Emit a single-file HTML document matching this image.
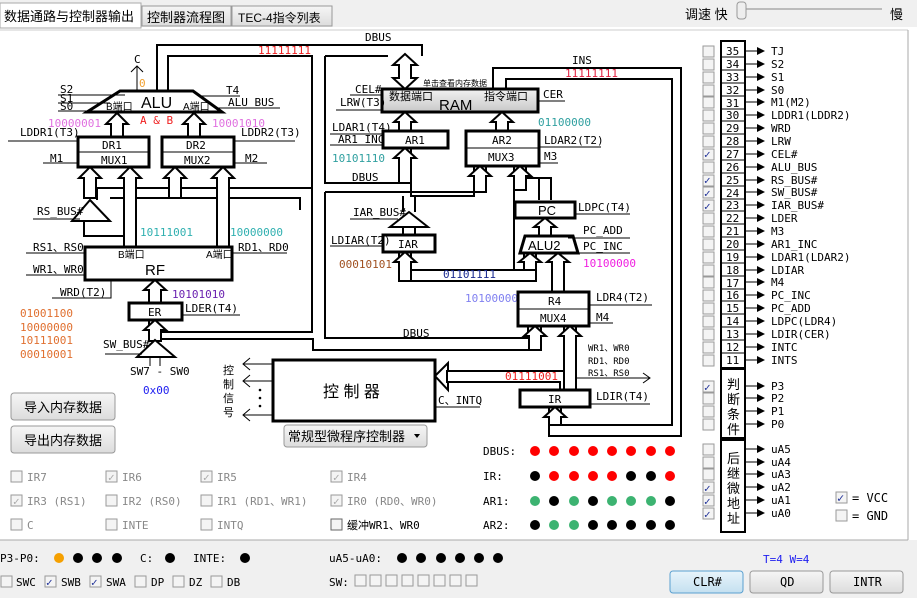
<!DOCTYPE html>
<html><head><meta charset="utf-8"><style>
html,body{margin:0;padding:0;background:#f0f0f0;width:917px;height:598px;overflow:hidden}
svg{display:block}
text{font-family:"DejaVu Sans Mono","Liberation Mono","Noto Sans CJK SC",monospace;font-size:11px;fill:#000}
.cj{font-family:"Liberation Sans","Noto Sans CJK SC",sans-serif}
.w{fill:none;stroke:#000;stroke-width:2}
.t{fill:none;stroke:#000;stroke-width:1}
.a{fill:#fff;stroke:#000;stroke-width:2}
.b{fill:#fff;stroke:#000;stroke-width:3}
.cb{fill:#f4f4f4;stroke:#999;stroke-width:1}
.g{fill:#888}
</style></head><body>
<svg width="917" height="598" viewBox="0 0 917 598" xmlns="http://www.w3.org/2000/svg">
<defs>
<linearGradient id="ram" x1="0" y1="0" x2="0" y2="1"><stop offset="0" stop-color="#f2f2f2"/><stop offset="1" stop-color="#c8c8c8"/></linearGradient>
<linearGradient id="btn" x1="0" y1="0" x2="0" y2="1"><stop offset="0" stop-color="#f6f6f6"/><stop offset="1" stop-color="#dcdcdc"/></linearGradient>
<linearGradient id="btn2" x1="0" y1="0" x2="0" y2="1"><stop offset="0" stop-color="#e8f4fb"/><stop offset="1" stop-color="#c4e0f0"/></linearGradient>
<marker id="ar" markerWidth="8" markerHeight="8" refX="7" refY="4" orient="auto" markerUnits="userSpaceOnUse"><path d="M0,0 L8,4 L0,8 z" fill="#000"/></marker>
</defs>
<!-- tabs -->
<rect x="0" y="27" width="917" height="513" fill="#fff"/>
<rect x="0" y="3" width="141" height="25" fill="#fff" stroke="#aaa"/>
<rect x="142" y="6" width="89" height="20" fill="url(#btn)" stroke="#999"/>
<rect x="232" y="6" width="100" height="20" fill="url(#btn)" stroke="#999"/>
<text class="cj" x="4" y="21" style="font-size:13px">数据通路与控制器输出</text>
<text class="cj" x="147" y="22" style="font-size:13px">控制器流程图</text>
<text x="238" y="22" style="font-size:12px;font-family:'Liberation Sans','Noto Sans CJK SC',sans-serif">TEC-4指令列表</text>
<text class="cj" x="685" y="19" style="font-size:13px">调速 快</text>
<line x1="737" y1="9" x2="882" y2="9" stroke="#bbb" stroke-width="2"/>
<rect x="737" y="2" width="9" height="17" rx="3" fill="#eee" stroke="#999"/>
<text class="cj" x="890" y="19" style="font-size:13px">慢</text>
<line x1="0" y1="30" x2="908" y2="30" stroke="#ccc"/>
<line x1="908" y1="30" x2="908" y2="540" stroke="#aaa"/>
<line x1="0" y1="540" x2="908" y2="540" stroke="#aaa"/>

<!-- wires -->
<polyline class="w" points="157,91 157,45 422,45 422,56"/>
<polyline class="w" points="168,91 168,56 312,56 312,188 97,188 97,200"/>
<polyline class="w" points="312,188 312,332 161,332"/>
<polyline class="w" points="110,198 300,198 300,210"/>
<polyline class="w" points="84,221 84,236 124,236"/>
<polyline class="w" points="161,339 313,339 313,350 541,350 541,326"/>
<polyline class="w" points="325,56 325,183 399,183"/>
<polyline class="w" points="388,56 325,56"/>
<polyline class="w" points="411,148 411,196 474,196 474,166"/>
<polyline class="w" points="325,192 486,192 486,166"/>
<polyline class="w" points="325,192 325,338 528,338 528,326"/>
<polyline class="w" points="399,252 399,281 536,281 536,253"/>
<polyline class="w" points="411,252 411,270 524,270 524,253"/>
<polyline class="w" points="514,166 514,270"/>
<polyline class="w" points="526,166 526,178 539,178 539,200"/>
<polyline class="w" points="551,200 551,178 526,178"/>
<polyline class="w" points="493,89 493,68 681,68 681,436 549,436 549,407"/>
<polyline class="w" points="506,89 506,79 672,79 672,425 561,425 561,407"/>
<polyline class="w" points="564,326 564,371 447,371"/>
<polyline class="w" points="576,326 576,390"/>
<polyline class="w" points="447,382 560,382 560,390"/>
<polyline class="w" points="149,332 149,320"/>
<line class="t" x1="576" y1="378" x2="650" y2="378"/><polyline class="t" points="643,373 650,378 643,383"/>

<!-- ALU -->
<polygon class="b" points="120,91 193,91 222,112 87,112"/>
<text x="141" y="108" style="font-size:16px;font-family:'Liberation Sans',sans-serif">ALU</text>
<text class="cj" x="106" y="110" style="font-size:10px">B端口</text>
<text class="cj" x="183" y="110" style="font-size:10px">A端口</text>
<line class="t" x1="137" y1="91" x2="137" y2="66"/><polyline class="t" points="131,72 137,66 143,72"/>
<text x="134" y="63">C</text>
<text x="139" y="87" style="fill:#f0a030">0</text>
<line class="t" x1="58" y1="95" x2="125" y2="95"/><line class="t" x1="58" y1="103" x2="110" y2="103"/><line class="t" x1="58" y1="111" x2="92" y2="111"/>
<text x="60" y="93">S2</text><text x="60" y="102">S1</text><text x="60" y="110">S0</text>
<text x="226" y="94">T4</text><line class="t" x1="200" y1="96" x2="240" y2="96"/>
<text x="228" y="106">ALU_BUS</text><line class="t" x1="215" y1="108" x2="280" y2="108"/>
<text x="140" y="124" style="fill:#f02020">A &amp; B</text>
<text x="48" y="127" style="fill:#e070e0">10000001</text>
<text x="212" y="127" style="fill:#e070e0">10001010</text>
<polygon class="a" points="117,113 128,124 123,124 123,137 111,137 111,124 106,124"/>
<polygon class="a" points="194,113 205,124 200,124 200,137 188,137 188,124 183,124"/>
<!-- DR -->
<rect class="b" x="78" y="137" width="71" height="30"/><line class="t" x1="78" y1="152" x2="149" y2="152"/>
<rect class="b" x="162" y="137" width="72" height="30"/><line class="t" x1="162" y1="152" x2="234" y2="152"/>
<text x="102" y="149">DR1</text><text x="101" y="164">MUX1</text>
<text x="186" y="149">DR2</text><text x="184" y="164">MUX2</text>
<text x="20" y="136">LDDR1(T3)</text><line class="t" x1="8" y1="141" x2="78" y2="141"/>
<text x="241" y="136">LDDR2(T3)</text><line class="t" x1="234" y1="141" x2="295" y2="141"/>
<text x="50" y="162">M1</text><line class="t" x1="43" y1="163" x2="78" y2="163"/>
<text x="245" y="162">M2</text><line class="t" x1="234" y1="163" x2="267" y2="163"/>
<polygon class="a" points="90,167 101,178 96,178 96,198 84,198 84,178 79,178"/>
<polygon class="a" points="130,167 141,178 136,178 136,247 124,247 124,178 119,178"/>
<polygon class="a" points="175,167 186,178 181,178 181,198 169,198 169,178 164,178"/>
<polygon class="a" points="223,167 234,178 229,178 229,247 217,247 217,178 212,178"/>
<!-- RS_BUS triangle -->
<polygon class="a" points="90,200 110,221 72,221"/>
<text x="37" y="215">RS_BUS#</text><line class="t" x1="33" y1="219" x2="80" y2="219"/>
<text x="140" y="236" style="fill:#30b0b0">10111001</text>
<text x="230" y="236" style="fill:#30b0b0">10000000</text>
<!-- RF -->
<rect class="b" x="85" y="247" width="147" height="33"/>
<text class="cj" x="118" y="258" style="font-size:10px">B端口</text>
<text class="cj" x="206" y="258" style="font-size:10px">A端口</text>
<text x="145" y="275" style="font-size:15px;font-family:'Liberation Sans',sans-serif">RF</text>
<text x="33" y="251">RS1、RS0</text><line class="t" x1="26" y1="253" x2="85" y2="253"/>
<text x="33" y="273">WR1、WR0</text><line class="t" x1="26" y1="275" x2="85" y2="275"/>
<text x="238" y="251">RD1、RD0</text><line class="t" x1="232" y1="253" x2="287" y2="253"/>
<text x="60" y="296">WRD(T2)</text><polyline class="t" points="52,298 111,298 111,280"/>
<polygon class="a" points="155,280 166,290 161,290 161,303 149,303 149,290 144,290"/>
<text x="172" y="298" style="fill:#6a20b0">10101010</text>
<rect class="b" x="129" y="303" width="53" height="17"/><text x="148" y="316">ER</text>
<text x="185" y="312">LDER(T4)</text><line class="t" x1="182" y1="315" x2="240" y2="315"/>
<polygon class="a" points="155,320 166,330 161,330 161,341 149,341 149,330 144,330"/>
<polygon class="a" points="155,340 175,357 137,357"/>
<line class="t" x1="150" y1="357" x2="150" y2="366"/><line class="t" x1="160" y1="357" x2="160" y2="366"/>
<text x="103" y="348">SW_BUS#</text><line class="t" x1="105" y1="354" x2="142" y2="354"/>
<text x="130" y="375">SW7 - SW0</text>
<text x="143" y="394" style="fill:#2020f0">0x00</text>
<g style="fill:#e07030"><text x="20" y="317" style="fill:#e07030">01001100</text><text x="20" y="331" style="fill:#e07030">10000000</text><text x="20" y="344" style="fill:#e07030">10111001</text><text x="20" y="358" style="fill:#e07030">00010001</text></g>
<text x="258" y="54" style="fill:#f02020">11111111</text>
<text x="365" y="41">DBUS</text>

<!-- RAM -->
<polygon class="a" points="405,54 417,65 411,65 411,78 417,78 405,89 393,78 399,78 399,65 393,65"/>
<text class="cj" x="423" y="86" style="font-size:8px">单击查看内存数据</text>
<rect x="382" y="89" width="156" height="23" fill="url(#ram)" stroke="#000" stroke-width="3"/>
<text class="cj" x="389" y="100" style="font-size:11px">数据端口</text>
<text class="cj" x="484" y="100" style="font-size:11px">指令端口</text>
<text x="439" y="110" style="font-size:15px;font-family:'Liberation Sans',sans-serif">RAM</text>
<text x="355" y="93">CEL#</text><line class="t" x1="350" y1="95" x2="382" y2="95"/>
<text x="340" y="106">LRW(T3)</text><line class="t" x1="336" y1="110" x2="382" y2="110"/>
<text x="543" y="98">CER</text><line class="t" x1="538" y1="101" x2="565" y2="101"/>
<text x="572" y="64">INS</text>
<text x="565" y="77" style="fill:#e02040">11111111</text>
<polygon class="a" points="405,112 416,122 411,122 411,131 399,131 399,122 394,122"/>
<polygon class="a" points="502,112 513,122 508,122 508,131 496,131 496,122 491,122"/>
<rect class="b" x="383" y="131" width="65" height="17"/><text x="405" y="144">AR1</text>
<rect class="b" x="466" y="131" width="73" height="35"/><line class="t" x1="466" y1="148" x2="539" y2="148"/>
<text x="492" y="144">AR2</text><text x="488" y="161">MUX3</text>
<text x="332" y="131">LDAR1(T4)</text><line class="t" x1="330" y1="134" x2="383" y2="134"/>
<text x="338" y="143">AR1_INC</text><line class="t" x1="330" y1="145" x2="383" y2="145"/>
<text x="332" y="162" style="fill:#30a0a0">10101110</text>
<text x="352" y="181">DBUS</text>
<text x="538" y="126" style="fill:#30a0a0">01100000</text>
<text x="544" y="144">LDAR2(T2)</text><line class="t" x1="539" y1="147" x2="601" y2="147"/>
<text x="544" y="160">M3</text><line class="t" x1="539" y1="163" x2="558" y2="163"/>
<polygon class="a" points="405,148 416,158 411,158 411,183 399,183 399,158 394,158"/>
<polygon class="a" points="480,166 491,176 486,176 486,192 474,192 474,176 469,176"/>
<polygon class="a" points="520,166 531,176 526,176 526,190 514,190 514,176 509,176"/>
<!-- PC / ALU2 -->
<rect class="b" x="515" y="202" width="60" height="16"/><text x="538" y="215" style="font-size:13px;font-family:'Liberation Sans',sans-serif">PC</text>
<text x="578" y="211">LDPC(T4)</text><line class="t" x1="575" y1="214" x2="630" y2="214"/>
<polygon class="a" points="545,218 556,227 551,227 551,236 539,236 539,227 534,227"/>
<polygon class="b" points="525,236 573,236 578,253 520,253"/>
<text x="528" y="250" style="font-size:13px;font-family:'Liberation Sans',sans-serif">ALU2</text>
<text x="583" y="234">PC_ADD</text><line class="t" x1="568" y1="238" x2="630" y2="238"/>
<text x="583" y="250">PC_INC</text><line class="t" x1="575" y1="253" x2="630" y2="253"/>
<text x="583" y="267" style="fill:#f020e0">10100000</text>
<polygon class="a" points="530,253 541,262 536,262 536,270 524,270 524,262 519,262"/>
<polygon class="a" points="558,253 569,262 564,262 564,292 552,292 552,262 547,262"/>
<!-- IAR -->
<polygon class="a" points="409,212 428,227 390,227"/>
<line class="w" x1="403" y1="212" x2="403" y2="196"/><line class="w" x1="415" y1="212" x2="415" y2="196"/>
<text x="353" y="216">IAR_BUS#</text><line class="t" x1="350" y1="219" x2="398" y2="219"/>
<rect class="b" x="383" y="235" width="52" height="17"/><text x="398" y="248">IAR</text>
<line class="w" x1="403" y1="227" x2="403" y2="235"/><line class="w" x1="415" y1="227" x2="415" y2="235"/>
<text x="331" y="244">LDIAR(T2)</text><line class="t" x1="330" y1="246" x2="383" y2="246"/>
<polygon class="a" points="405,252 416,262 411,262 411,281 399,281 399,262 394,262"/>
<text x="339" y="268" style="fill:#a05020">00010101</text>
<text x="443" y="278" style="fill:#1a2a90">01101111</text>
<!-- R4 -->
<text x="465" y="302" style="fill:#8080f0">10100000</text>
<rect class="b" x="518" y="292" width="71" height="34"/><line class="t" x1="518" y1="309" x2="589" y2="309"/>
<text x="548" y="305">R4</text><text x="540" y="322">MUX4</text>
<text x="596" y="301">LDR4(T2)</text><line class="t" x1="589" y1="305" x2="652" y2="305"/>
<text x="596" y="321">M4</text><line class="t" x1="589" y1="323" x2="613" y2="323"/>
<text x="403" y="337">DBUS</text>
<polygon class="a" points="535,326 546,336 541,336 541,350 529,350 529,336 524,336"/>
<polygon class="a" points="570,326 581,336 576,336 576,390 564,390 564,336 559,336"/>
<text x="588" y="351" style="font-size:9px">WR1、WR0</text>
<text x="588" y="364" style="font-size:9px">RD1、RD0</text>
<text x="588" y="376" style="font-size:9px">RS1、RS0</text>
<!-- IR -->
<rect class="b" x="520" y="390" width="70" height="17"/><text x="548" y="403">IR</text>
<text x="596" y="400">LDIR(T4)</text><line class="t" x1="590" y1="404" x2="650" y2="404"/>
<polygon class="a" points="555,407 566,417 561,417 561,425 549,425 549,417 544,417"/>
<text x="505" y="380" style="fill:#f02020">01111001</text>
<polygon class="a" points="435,376 448,363 448,371 447,371 447,382 448,382 448,390"/>
<!-- controller -->
<rect class="b" x="273" y="360" width="162" height="61"/>
<text class="cj" x="323" y="397" style="font-size:16px">控 制 器</text>
<text x="438" y="404">C、INTQ</text><line class="t" x1="435" y1="407" x2="480" y2="407"/>
<g class="t"><line x1="243" y1="364" x2="273" y2="364"/><line x1="243" y1="381" x2="273" y2="381"/><line x1="243" y1="415" x2="273" y2="415"/>
<polyline points="250,358 243,364 250,370"/><polyline points="250,375 243,381 250,387"/><polyline points="250,409 243,415 250,421"/></g>
<circle cx="260" cy="390" r="1.3"/><circle cx="260" cy="398" r="1.3"/><circle cx="260" cy="406" r="1.3"/>
<text class="cj" x="223" y="374" style="font-size:11px">控</text><text class="cj" x="223" y="388" style="font-size:11px">制</text><text class="cj" x="223" y="402" style="font-size:11px">信</text><text class="cj" x="223" y="416" style="font-size:11px">号</text>
<rect x="284" y="425" width="143" height="22" rx="3" fill="url(#btn)" stroke="#999"/>
<text class="cj" x="288" y="441" style="font-size:13px">常规型微程序控制器</text>
<path d="M414,434 L420,434 L417,438 z" fill="#000"/>
<!-- buttons -->
<rect x="11" y="393" width="104" height="27" rx="3" fill="url(#btn)" stroke="#999"/>
<text class="cj" x="24" y="412" style="font-size:13px">导入内存数据</text>
<rect x="11" y="426" width="104" height="27" rx="3" fill="url(#btn)" stroke="#999"/>
<text class="cj" x="24" y="445" style="font-size:13px">导出内存数据</text>
<!-- IR checkboxes -->
<g style="font-size:12px">
<rect class="cb" x="11" y="471" width="11" height="11"/><text class="g" x="27" y="481">IR7</text>
<rect class="cb" x="106" y="471" width="11" height="11"/><text class="g" x="122" y="481">IR6</text><text x="108" y="481" style="fill:#aaa">✓</text>
<rect class="cb" x="201" y="471" width="11" height="11"/><text class="g" x="217" y="481">IR5</text><text x="203" y="481" style="fill:#aaa">✓</text>
<rect class="cb" x="331" y="471" width="11" height="11"/><text class="g" x="347" y="481">IR4</text><text x="333" y="481" style="fill:#aaa">✓</text>
<rect class="cb" x="11" y="495" width="11" height="11"/><text class="g" x="27" y="505">IR3 (RS1)</text><text x="13" y="505" style="fill:#aaa">✓</text>
<rect class="cb" x="106" y="495" width="11" height="11"/><text class="g" x="122" y="505">IR2 (RS0)</text>
<rect class="cb" x="201" y="495" width="11" height="11"/><text class="g" x="217" y="505">IR1 (RD1、WR1)</text>
<rect class="cb" x="331" y="495" width="11" height="11"/><text class="g" x="347" y="505">IR0 (RD0、WR0)</text><text x="333" y="505" style="fill:#aaa">✓</text>
<rect class="cb" x="11" y="519" width="11" height="11"/><text class="g" x="27" y="529">C</text>
<rect class="cb" x="106" y="519" width="11" height="11"/><text class="g" x="122" y="529">INTE</text>
<rect class="cb" x="201" y="519" width="11" height="11"/><text class="g" x="217" y="529">INTQ</text>
<rect x="331" y="519" width="11" height="11" fill="#f4f4f4" stroke="#666"/><text x="347" y="529">缓冲WR1、WR0</text>
</g>
<!-- LED rows -->
<text x="483" y="455">DBUS:</text><text x="483" y="480">IR:</text><text x="483" y="505">AR1:</text><text x="483" y="529">AR2:</text>
<g>
<circle cx="535" cy="451" r="5" fill="#f00"/><circle cx="554" cy="451" r="5" fill="#f00"/><circle cx="574" cy="451" r="5" fill="#f00"/><circle cx="593" cy="451" r="5" fill="#f00"/><circle cx="612" cy="451" r="5" fill="#f00"/><circle cx="631" cy="451" r="5" fill="#f00"/><circle cx="651" cy="451" r="5" fill="#f00"/><circle cx="670" cy="451" r="5" fill="#f00"/>
<circle cx="535" cy="476" r="5" fill="#000"/><circle cx="554" cy="476" r="5" fill="#f00"/><circle cx="574" cy="476" r="5" fill="#f00"/><circle cx="593" cy="476" r="5" fill="#f00"/><circle cx="612" cy="476" r="5" fill="#f00"/><circle cx="631" cy="476" r="5" fill="#000"/><circle cx="651" cy="476" r="5" fill="#000"/><circle cx="670" cy="476" r="5" fill="#f00"/>
<circle cx="535" cy="501" r="5" fill="#3cb371"/><circle cx="554" cy="501" r="5" fill="#000"/><circle cx="574" cy="501" r="5" fill="#3cb371"/><circle cx="593" cy="501" r="5" fill="#000"/><circle cx="612" cy="501" r="5" fill="#3cb371"/><circle cx="631" cy="501" r="5" fill="#3cb371"/><circle cx="651" cy="501" r="5" fill="#3cb371"/><circle cx="670" cy="501" r="5" fill="#000"/>
<circle cx="535" cy="525" r="5" fill="#000"/><circle cx="554" cy="525" r="5" fill="#3cb371"/><circle cx="574" cy="525" r="5" fill="#3cb371"/><circle cx="593" cy="525" r="5" fill="#000"/><circle cx="612" cy="525" r="5" fill="#000"/><circle cx="631" cy="525" r="5" fill="#000"/><circle cx="651" cy="525" r="5" fill="#000"/><circle cx="670" cy="525" r="5" fill="#000"/>
</g>

<!-- right column -->
<rect x="721" y="41" width="24" height="327" fill="#fff" stroke="#000" stroke-width="2"/>
<g id="rows">
<line class="t" x1="721" y1="57" x2="745" y2="57"/><line class="t" x1="721" y1="70" x2="745" y2="70"/><line class="t" x1="721" y1="83" x2="745" y2="83"/><line class="t" x1="721" y1="96" x2="745" y2="96"/><line class="t" x1="721" y1="109" x2="745" y2="109"/><line class="t" x1="721" y1="121" x2="745" y2="121"/><line class="t" x1="721" y1="134" x2="745" y2="134"/><line class="t" x1="721" y1="147" x2="745" y2="147"/><line class="t" x1="721" y1="160" x2="745" y2="160"/><line class="t" x1="721" y1="173" x2="745" y2="173"/><line class="t" x1="721" y1="186" x2="745" y2="186"/><line class="t" x1="721" y1="199" x2="745" y2="199"/><line class="t" x1="721" y1="211" x2="745" y2="211"/><line class="t" x1="721" y1="224" x2="745" y2="224"/><line class="t" x1="721" y1="237" x2="745" y2="237"/><line class="t" x1="721" y1="250" x2="745" y2="250"/><line class="t" x1="721" y1="263" x2="745" y2="263"/><line class="t" x1="721" y1="276" x2="745" y2="276"/><line class="t" x1="721" y1="289" x2="745" y2="289"/><line class="t" x1="721" y1="301" x2="745" y2="301"/><line class="t" x1="721" y1="314" x2="745" y2="314"/><line class="t" x1="721" y1="327" x2="745" y2="327"/><line class="t" x1="721" y1="340" x2="745" y2="340"/><line class="t" x1="721" y1="353" x2="745" y2="353"/>
</g>
<g style="font-size:11px">
<text x="726" y="55">35</text><text x="726" y="68">34</text><text x="726" y="81">33</text><text x="726" y="94">32</text><text x="726" y="107">31</text><text x="726" y="119">30</text><text x="726" y="132">29</text><text x="726" y="145">28</text><text x="726" y="158">27</text><text x="726" y="171">26</text><text x="726" y="184">25</text><text x="726" y="197">24</text><text x="726" y="209">23</text><text x="726" y="222">22</text><text x="726" y="235">21</text><text x="726" y="248">20</text><text x="726" y="261">19</text><text x="726" y="274">18</text><text x="726" y="287">17</text><text x="726" y="299">16</text><text x="726" y="312">15</text><text x="726" y="325">14</text><text x="726" y="338">13</text><text x="726" y="351">12</text><text x="726" y="364">11</text>
</g>
<g class="t" marker-end="url(#ar)">
<line x1="745" y1="51" x2="764" y2="51"/><line x1="745" y1="64" x2="764" y2="64"/><line x1="745" y1="77" x2="764" y2="77"/><line x1="745" y1="90" x2="764" y2="90"/><line x1="745" y1="102" x2="764" y2="102"/><line x1="745" y1="115" x2="764" y2="115"/><line x1="745" y1="128" x2="764" y2="128"/><line x1="745" y1="141" x2="764" y2="141"/><line x1="745" y1="154" x2="764" y2="154"/><line x1="745" y1="167" x2="764" y2="167"/><line x1="745" y1="180" x2="764" y2="180"/><line x1="745" y1="192" x2="764" y2="192"/><line x1="745" y1="205" x2="764" y2="205"/><line x1="745" y1="218" x2="764" y2="218"/><line x1="745" y1="231" x2="764" y2="231"/><line x1="745" y1="244" x2="764" y2="244"/><line x1="745" y1="257" x2="764" y2="257"/><line x1="745" y1="270" x2="764" y2="270"/><line x1="745" y1="282" x2="764" y2="282"/><line x1="745" y1="295" x2="764" y2="295"/><line x1="745" y1="308" x2="764" y2="308"/><line x1="745" y1="321" x2="764" y2="321"/><line x1="745" y1="334" x2="764" y2="334"/><line x1="745" y1="347" x2="764" y2="347"/><line x1="745" y1="360" x2="764" y2="360"/>
<line x1="745" y1="386" x2="764" y2="386"/><line x1="745" y1="398" x2="764" y2="398"/><line x1="745" y1="411" x2="764" y2="411"/><line x1="745" y1="424" x2="764" y2="424"/>
<line x1="745" y1="449" x2="764" y2="449"/><line x1="745" y1="462" x2="764" y2="462"/><line x1="745" y1="474" x2="764" y2="474"/><line x1="745" y1="487" x2="764" y2="487"/><line x1="745" y1="500" x2="764" y2="500"/><line x1="745" y1="513" x2="764" y2="513"/>
</g>
<g style="font-size:11px">
<text x="771" y="55">TJ</text><text x="771" y="68">S2</text><text x="771" y="81">S1</text><text x="771" y="94">S0</text><text x="771" y="106">M1(M2)</text><text x="771" y="119">LDDR1(LDDR2)</text><text x="771" y="132">WRD</text><text x="771" y="145">LRW</text><text x="771" y="158">CEL#</text><text x="771" y="171">ALU_BUS</text><text x="771" y="184">RS_BUS#</text><text x="771" y="196">SW_BUS#</text><text x="771" y="209">IAR_BUS#</text><text x="771" y="222">LDER</text><text x="771" y="235">M3</text><text x="771" y="248">AR1_INC</text><text x="771" y="261">LDAR1(LDAR2)</text><text x="771" y="274">LDIAR</text><text x="771" y="286">M4</text><text x="771" y="299">PC_INC</text><text x="771" y="312">PC_ADD</text><text x="771" y="325">LDPC(LDR4)</text><text x="771" y="338">LDIR(CER)</text><text x="771" y="351">INTC</text><text x="771" y="364">INTS</text>
<text x="771" y="390">P3</text><text x="771" y="402">P2</text><text x="771" y="415">P1</text><text x="771" y="428">P0</text>
<text x="771" y="453">uA5</text><text x="771" y="466">uA4</text><text x="771" y="478">uA3</text><text x="771" y="491">uA2</text><text x="771" y="504">uA1</text><text x="771" y="517">uA0</text>
</g>
<rect x="721" y="369" width="24" height="69" fill="#fff" stroke="#000" stroke-width="2"/>
<text class="cj" x="727" y="389" style="font-size:13px">判</text><text class="cj" x="727" y="404" style="font-size:13px">断</text><text class="cj" x="727" y="419" style="font-size:13px">条</text><text class="cj" x="727" y="434" style="font-size:13px">件</text>
<rect x="721" y="440" width="24" height="92" fill="#fff" stroke="#000" stroke-width="2"/>
<text class="cj" x="727" y="463" style="font-size:13px">后</text><text class="cj" x="727" y="478" style="font-size:13px">继</text><text class="cj" x="727" y="493" style="font-size:13px">微</text><text class="cj" x="727" y="508" style="font-size:13px">地</text><text class="cj" x="727" y="523" style="font-size:13px">址</text>
<!-- right checkboxes -->
<g>
<rect class="cb" x="703" y="46" width="11" height="11"/><rect class="cb" x="703" y="59" width="11" height="11"/><rect class="cb" x="703" y="72" width="11" height="11"/><rect class="cb" x="703" y="85" width="11" height="11"/><rect class="cb" x="703" y="97" width="11" height="11"/><rect class="cb" x="703" y="110" width="11" height="11"/><rect class="cb" x="703" y="123" width="11" height="11"/><rect class="cb" x="703" y="136" width="11" height="11"/><rect class="cb" x="703" y="149" width="11" height="11"/><rect class="cb" x="703" y="162" width="11" height="11"/><rect class="cb" x="703" y="175" width="11" height="11"/><rect class="cb" x="703" y="187" width="11" height="11"/><rect class="cb" x="703" y="200" width="11" height="11"/><rect class="cb" x="703" y="213" width="11" height="11"/><rect class="cb" x="703" y="226" width="11" height="11"/><rect class="cb" x="703" y="239" width="11" height="11"/><rect class="cb" x="703" y="252" width="11" height="11"/><rect class="cb" x="703" y="265" width="11" height="11"/><rect class="cb" x="703" y="277" width="11" height="11"/><rect class="cb" x="703" y="290" width="11" height="11"/><rect class="cb" x="703" y="303" width="11" height="11"/><rect class="cb" x="703" y="316" width="11" height="11"/><rect class="cb" x="703" y="329" width="11" height="11"/><rect class="cb" x="703" y="342" width="11" height="11"/><rect class="cb" x="703" y="355" width="11" height="11"/>
<rect class="cb" x="703" y="381" width="11" height="11"/><rect class="cb" x="703" y="393" width="11" height="11"/><rect class="cb" x="703" y="406" width="11" height="11"/><rect class="cb" x="703" y="419" width="11" height="11"/>
<rect class="cb" x="703" y="444" width="11" height="11"/><rect class="cb" x="703" y="457" width="11" height="11"/><rect class="cb" x="703" y="469" width="11" height="11"/><rect class="cb" x="703" y="482" width="11" height="11"/><rect class="cb" x="703" y="495" width="11" height="11"/><rect class="cb" x="703" y="508" width="11" height="11"/>
</g>
<g style="fill:#223399;font-size:12px">
<text x="704" y="158" style="fill:#223399">✓</text><text x="704" y="184" style="fill:#223399">✓</text><text x="704" y="197" style="fill:#223399">✓</text><text x="704" y="210" style="fill:#223399">✓</text>
<text x="704" y="391" style="fill:#223399">✓</text>
<text x="704" y="492" style="fill:#223399">✓</text><text x="704" y="505" style="fill:#223399">✓</text><text x="704" y="518" style="fill:#223399">✓</text>
</g>
<rect class="cb" x="836" y="492" width="11" height="11"/><text x="837" y="502" style="fill:#223399;font-size:12px">✓</text>
<text x="852" y="502" style="font-size:12px">= VCC</text>
<rect class="cb" x="836" y="510" width="11" height="11"/>
<text x="852" y="520" style="font-size:12px">= GND</text>

<!-- bottom bar -->
<g style="font-size:12px">
<text x="0" y="562">P3-P0:</text>
<circle cx="59" cy="558" r="5" fill="#f5a000"/><circle cx="78" cy="558" r="5" fill="#000"/><circle cx="97" cy="558" r="5" fill="#000"/><circle cx="117" cy="558" r="5" fill="#000"/>
<text x="140" y="562">C:</text><circle cx="170" cy="558" r="5" fill="#000"/>
<text x="193" y="562">INTE:</text><circle cx="245" cy="558" r="5" fill="#000"/>
<text x="329" y="562">uA5-uA0:</text>
<circle cx="402" cy="558" r="5" fill="#000"/><circle cx="421" cy="558" r="5" fill="#000"/><circle cx="441" cy="558" r="5" fill="#000"/><circle cx="460" cy="558" r="5" fill="#000"/><circle cx="479" cy="558" r="5" fill="#000"/><circle cx="498" cy="558" r="5" fill="#000"/>
<rect class="cb" x="1" y="576" width="11" height="11"/><text x="16" y="586">SWC</text>
<rect class="cb" x="45" y="576" width="11" height="11"/><text x="46" y="586" style="fill:#223399">✓</text><text x="61" y="586">SWB</text>
<rect class="cb" x="90" y="576" width="11" height="11"/><text x="91" y="586" style="fill:#223399">✓</text><text x="106" y="586">SWA</text>
<rect class="cb" x="135" y="576" width="11" height="11"/><text x="151" y="586">DP</text>
<rect class="cb" x="173" y="576" width="11" height="11"/><text x="189" y="586">DZ</text>
<rect class="cb" x="211" y="576" width="11" height="11"/><text x="227" y="586">DB</text>
<text x="329" y="586">SW:</text>
<rect class="cb" x="355" y="575" width="11" height="11"/><rect class="cb" x="370" y="575" width="11" height="11"/><rect class="cb" x="386" y="575" width="11" height="11"/><rect class="cb" x="402" y="575" width="11" height="11"/><rect class="cb" x="418" y="575" width="11" height="11"/><rect class="cb" x="434" y="575" width="11" height="11"/><rect class="cb" x="450" y="575" width="11" height="11"/><rect class="cb" x="466" y="575" width="11" height="11"/>
<text x="763" y="563" style="fill:#2020f0">T=4 W=4</text>
</g>
<rect x="670" y="571" width="73" height="22" rx="3" fill="url(#btn2)" stroke="#5aa0d0"/>
<text x="693" y="586" style="font-size:12px">CLR#</text>
<rect x="750" y="571" width="73" height="22" rx="3" fill="url(#btn)" stroke="#999"/>
<text x="780" y="586" style="font-size:12px">QD</text>
<rect x="830" y="571" width="73" height="22" rx="3" fill="url(#btn)" stroke="#999"/>
<text x="853" y="586" style="font-size:12px">INTR</text>
</svg>
</body></html>
